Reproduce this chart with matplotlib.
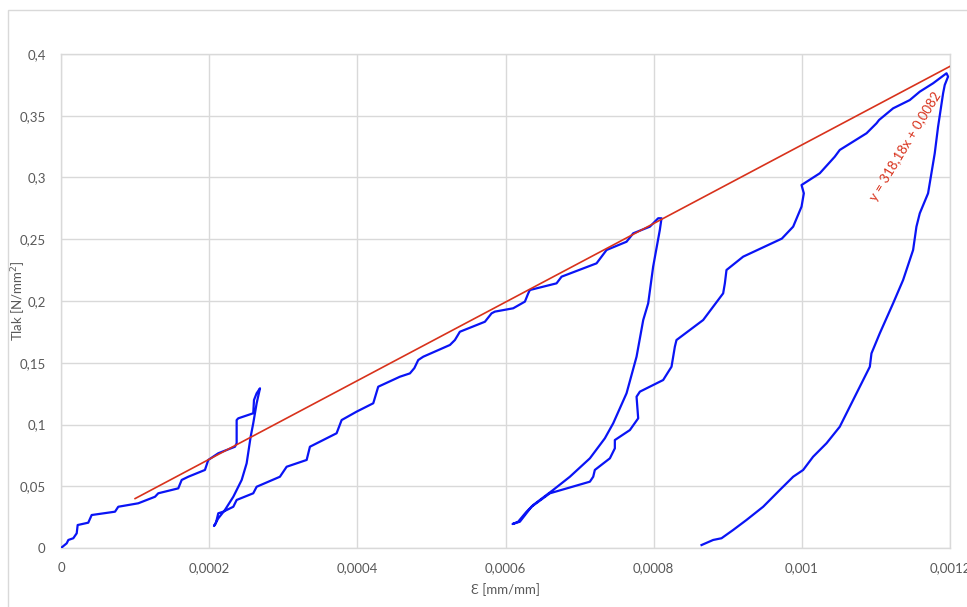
import matplotlib
matplotlib.use("Agg")
import matplotlib.pyplot as plt
from matplotlib.ticker import FuncFormatter, MultipleLocator
from matplotlib.patches import Rectangle

# Measured curve (strain [mm/mm], pressure [N/mm2]), three load/unload cycles
strain = [
    # cycle 1 loading
    0.0, 7.7e-6, 9.9e-6, 1.66e-5, 2.12e-5, 2.25e-5, 3.68e-5, 4.14e-5, 7.29e-5, 7.73e-5,
    1.043e-4, 1.269e-4, 1.313e-4, 1.583e-4, 1.629e-4, 1.718e-4, 1.943e-4, 1.988e-4,
    2.123e-4, 2.348e-4, 2.371e-4, 2.371e-4, 2.393e-4, 2.595e-4, 2.605e-4, 2.641e-4, 2.686e-4,
    # cycle 1 unloading
    2.641e-4, 2.595e-4, 2.560e-4, 2.506e-4, 2.439e-4, 2.326e-4, 2.213e-4, 2.123e-4, 2.065e-4,
    # cycle 2 loading
    2.09e-4, 2.123e-4, 2.19e-4, 2.326e-4, 2.371e-4, 2.595e-4, 2.641e-4, 2.955e-4, 3.046e-4,
    3.316e-4, 3.36e-4, 3.72e-4, 3.788e-4, 3.99e-4, 4.215e-4, 4.282e-4, 4.575e-4, 4.71e-4,
    4.77e-4, 4.822e-4, 4.89e-4, 5.25e-4, 5.317e-4, 5.384e-4, 5.722e-4, 5.812e-4, 5.857e-4,
    6.104e-4, 6.262e-4, 6.307e-4, 6.329e-4, 6.689e-4, 6.757e-4, 7.229e-4, 7.364e-4,
    7.634e-4, 7.724e-4, 7.949e-4, 8.061e-4, 8.106e-4,
    # cycle 2 unloading
    8.083e-4, 7.993e-4, 7.926e-4, 7.859e-4, 7.769e-4, 7.634e-4, 7.454e-4, 7.341e-4,
    7.139e-4, 6.869e-4, 6.643e-4, 6.374e-4, 6.284e-4, 6.171e-4, 6.095e-4,
    # cycle 3 loading
    6.194e-4, 6.351e-4, 6.599e-4, 7.139e-4, 7.184e-4, 7.206e-4, 7.409e-4, 7.476e-4,
    7.476e-4, 7.679e-4, 7.791e-4, 7.769e-4, 7.814e-4, 8.128e-4, 8.241e-4, 8.286e-4,
    8.308e-4, 8.668e-4, 8.938e-4, 8.961e-4, 8.983e-4, 9.208e-4, 9.73e-4, 9.883e-4,
    9.996e-4, 1.0027e-3, 9.996e-4, 1.0242e-3, 1.0444e-3, 1.0512e-3, 1.0873e-3, 1.1008e-3,
    1.1043e-3, 1.1232e-3, 1.1457e-3, 1.1592e-3, 1.1772e-3, 1.1953e-3, 1.1974e-3,
    # cycle 3 unloading
    1.1929e-3, 1.1907e-3, 1.1839e-3, 1.1794e-3, 1.1704e-3, 1.1592e-3, 1.1547e-3,
    1.1502e-3, 1.1367e-3, 1.1232e-3, 1.1052e-3, 1.0940e-3, 1.0918e-3, 1.0692e-3,
    1.0512e-3, 1.0333e-3, 1.0152e-3, 1.0018e-3, 9.883e-4, 9.703e-4, 9.478e-4, 9.253e-4,
    9.073e-4, 8.916e-4, 8.803e-4, 8.646e-4,
]
pressure = [
    # cycle 1 loading
    0.0, 0.0038, 0.0065, 0.0079, 0.0119, 0.0186, 0.0205, 0.0267, 0.0294, 0.0334,
    0.0362, 0.0415, 0.0443, 0.0483, 0.0551, 0.0577, 0.0632, 0.0713,
    0.0767, 0.0820, 0.0848, 0.1036, 0.1050, 0.1091, 0.1198, 0.1253, 0.1293,
    # cycle 1 unloading
    0.1172, 0.1010, 0.0901, 0.0686, 0.0551, 0.0415, 0.0308, 0.0240, 0.0178,
    # cycle 2 loading
    0.0200, 0.0281, 0.0294, 0.0334, 0.0389, 0.0443, 0.0496, 0.0577, 0.0658,
    0.0713, 0.0820, 0.0929, 0.1036, 0.1104, 0.1172, 0.1306, 0.1387, 0.1414,
    0.1457, 0.1522, 0.1549, 0.1644, 0.1684, 0.1751, 0.1832, 0.1900, 0.1914,
    0.1941, 0.1995, 0.2062, 0.2089, 0.2143, 0.2197, 0.2305, 0.2413,
    0.2480, 0.2548, 0.2602, 0.2670, 0.2670,
    # cycle 2 unloading
    0.2575, 0.2278, 0.1981, 0.1846, 0.1549, 0.1253, 0.1010, 0.0888,
    0.0726, 0.0577, 0.0470, 0.0348, 0.0294, 0.0213, 0.0194,
    # cycle 3 loading
    0.0213, 0.0334, 0.0443, 0.0537, 0.0577, 0.0632, 0.0726, 0.0807,
    0.0874, 0.0955, 0.1050, 0.1225, 0.1266, 0.1360, 0.1468, 0.1630,
    0.1684, 0.1846, 0.2062, 0.2143, 0.2251, 0.2359, 0.2505, 0.2602,
    0.2764, 0.2872, 0.2939, 0.3034, 0.3168, 0.3223, 0.3358, 0.3439,
    0.3466, 0.3560, 0.3627, 0.3695, 0.3763, 0.3844, 0.3817,
    # cycle 3 unloading
    0.3749, 0.3682, 0.3411, 0.3196, 0.2872, 0.2710, 0.2602,
    0.2413, 0.2170, 0.1981, 0.1738, 0.1576, 0.1468, 0.1198,
    0.0982, 0.0848, 0.0739, 0.0632, 0.0577, 0.0470, 0.0334, 0.0227,
    0.0146, 0.0079, 0.0065, 0.0024,
]

# linear trendline y = k*x + q
trend_k = 318.18
trend_q = 0.0082
trend_x = [0.0001, 0.0012]
trend_label = "y = 318,18x + 0,0082"

x_label = "Ɛ [mm/mm]"
y_label = "Tlak [N/mm$^2$]"

plt.rcParams['font.family'] = ['Lato', 'DejaVu Sans']
text_gray = '#595959'
grid_gray = '#d9d9d9'

fig = plt.figure(figsize=(9.67, 6.07), dpi=100)
# chart area border (Excel style), partly cut by the image edge
fig.patches.append(Rectangle((8/967, -0.1), 1.2, (597/607) + 0.1, transform=fig.transFigure,
                             fill=False, edgecolor=grid_gray, linewidth=1))
ax = fig.add_axes([61/967, 1 - 548/607, (950 - 61)/967, (548 - 54)/607])

ax.plot(strain, pressure, color='#0a14f5', linewidth=1.6, solid_joinstyle='round', zorder=3)
trend_y = [trend_k * v + trend_q for v in trend_x]
ax.plot(trend_x, trend_y, color='#d8321c', linewidth=1.2, zorder=4)

ax.set_xlim(0, 0.0012)
ax.set_ylim(0, 0.4)
ax.xaxis.set_major_locator(MultipleLocator(0.0002))
ax.yaxis.set_major_locator(MultipleLocator(0.05))

def comma_fmt(v, pos):
    return f"{round(v, 6):g}".replace('.', ',')

ax.xaxis.set_major_formatter(FuncFormatter(comma_fmt))
ax.yaxis.set_major_formatter(FuncFormatter(comma_fmt))
ax.tick_params(length=0, labelsize=9.5, colors=text_gray)
ax.tick_params(axis='x', pad=10)
ax.tick_params(axis='y', pad=11)

ax.grid(True, color=grid_gray, linewidth=1)
ax.set_axisbelow(True)
for s in ax.spines.values():
    s.set_color(grid_gray)
    s.set_linewidth(1)

ax.set_xlabel(x_label, fontsize=9.5, color=text_gray)
ax.set_ylabel(y_label, fontsize=9.5, color=text_gray)
ax.xaxis.set_label_coords(0.5, -(590 - 548) / 494, transform=ax.transAxes)
ax.yaxis.set_label_coords(-(61 - 19) / 889, 0.5, transform=ax.transAxes)
ax.xaxis.label.set_va('center')
ax.yaxis.label.set_va('center')

ax.text(0.001140, 0.3255, trend_label, rotation=58.5, color='#d8321c', fontsize=9.5,
        ha='center', va='center')

fig.savefig("out.png", dpi=100)
